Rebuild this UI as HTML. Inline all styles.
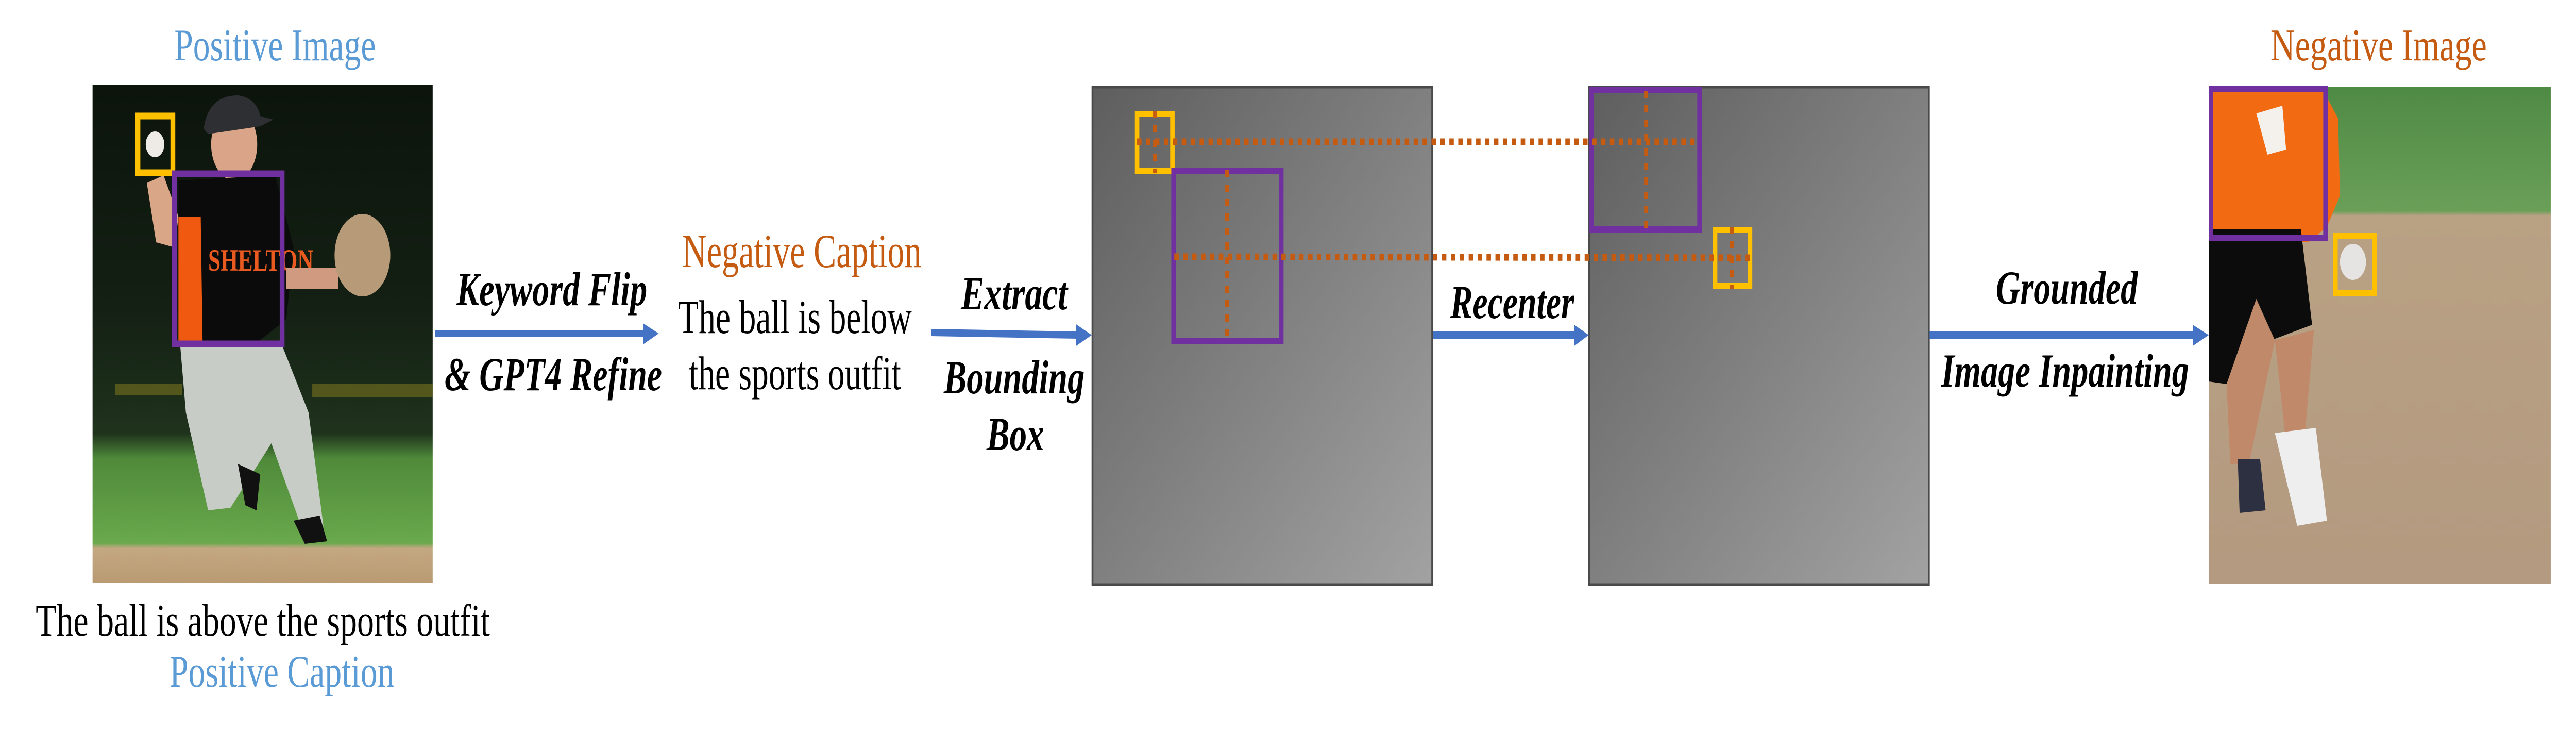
<!DOCTYPE html>
<html><head><meta charset="utf-8"><style>
html,body{margin:0;padding:0;background:#fff;width:100%;height:100%;overflow:hidden;}
svg{display:block;width:100vw;height:100vh;}
text{font-family:"Liberation Serif",serif;}
</style></head><body>
<svg viewBox="0 0 6930 1416" preserveAspectRatio="none" xmlns="http://www.w3.org/2000/svg">
<defs>
<linearGradient id="gp" x1="0" y1="0" x2="1" y2="1">
<stop offset="0" stop-color="#5e5e5e"/><stop offset="1" stop-color="#a2a2a2"/>
</linearGradient>
<linearGradient id="lbg" x1="0" y1="0" x2="0" y2="1">
<stop offset="0" stop-color="#0c140c"/><stop offset="0.45" stop-color="#142014"/><stop offset="0.7" stop-color="#1f331c"/><stop offset="0.75" stop-color="#4f8a3a"/><stop offset="0.92" stop-color="#6aa94c"/><stop offset="0.93" stop-color="#c4a882"/><stop offset="1" stop-color="#b99a72"/>
</linearGradient>
<linearGradient id="rbg" x1="0" y1="0" x2="0" y2="1">
<stop offset="0" stop-color="#4f8a44"/><stop offset="0.25" stop-color="#6a9f58"/><stop offset="0.26" stop-color="#b9a184"/><stop offset="1" stop-color="#b39a80"/>
</linearGradient>
</defs>

<rect x="249" y="165" width="915" height="966" fill="url(#lbg)"/>
<rect x="310" y="745" width="180" height="22" fill="#6b6a1e" opacity="0.7"/>
<rect x="840" y="745" width="324" height="25" fill="#6b6a1e" opacity="0.7"/>
<path d="M395 355 L440 340 L480 420 L470 480 L420 470 Z" fill="#d9a688"/>
<ellipse cx="630" cy="280" rx="62" ry="70" fill="#d9a488"/>
<path d="M548 250 Q560 185 640 185 Q690 190 700 225 L735 232 L700 245 L560 260 Z" fill="#2e2f33"/>
<path d="M480 350 L740 340 L790 480 L770 620 L690 665 L480 668 Z" fill="#0b0b0b"/>
<path d="M480 420 L540 420 L545 665 L480 665 Z" fill="#f05a10"/>
<text x="560" y="525" font-size="60" font-weight="bold" fill="#e85a20" font-family="Liberation Sans,sans-serif">SHELTON</text>
<path d="M770 520 L910 520 L910 560 L770 560 Z" fill="#d09a80"/>
<ellipse cx="975" cy="495" rx="75" ry="80" fill="#b79a78"/>
<path d="M485 672 L760 672 L830 800 L870 1020 L820 1040 L730 860 L620 985 L560 990 L500 800 Z" fill="#c8ccc6"/>
<path d="M790 1010 L860 1000 L880 1050 L820 1055 Z" fill="#111"/>
<path d="M640 900 L700 920 L690 990 L660 980 Z" fill="#111"/>
<circle cx="417" cy="280" r="25" fill="#eeeae6"/>
<rect x="371" y="225" width="94" height="110" fill="none" stroke="#ffc000" stroke-width="13"/>
<rect x="469" y="337" width="290" height="330" fill="none" stroke="#7030a0" stroke-width="13"/>

<text x="469" y="117" font-size="88" fill="#5b9bd5" textLength="542" lengthAdjust="spacingAndGlyphs">Positive Image</text>
<text x="96" y="1233" font-size="88" fill="#000" textLength="1222" lengthAdjust="spacingAndGlyphs">The ball is above the sports outfit</text>
<text x="456" y="1332" font-size="88" fill="#5b9bd5" textLength="605" lengthAdjust="spacingAndGlyphs">Positive Caption</text>

<line x1="1170" y1="647" x2="1735" y2="647" stroke="#4472c4" stroke-width="14"/>
<polygon points="1730,627 1772,647 1730,668" fill="#4472c4"/>
<text x="1228" y="592" font-size="92" font-weight="bold" font-style="italic" textLength="513" lengthAdjust="spacingAndGlyphs">Keyword Flip</text>
<text x="1196" y="757" font-size="92" font-weight="bold" font-style="italic" textLength="585" lengthAdjust="spacingAndGlyphs">&amp; GPT4 Refine</text>

<text x="1835" y="518" font-size="92" fill="#c55a11" textLength="644" lengthAdjust="spacingAndGlyphs">Negative Caption</text>
<text x="1824" y="646" font-size="92" fill="#000" textLength="629" lengthAdjust="spacingAndGlyphs">The ball is below</text>
<text x="1853" y="755" font-size="92" fill="#000" textLength="571" lengthAdjust="spacingAndGlyphs">the sports outfit</text>

<line x1="2505" y1="645" x2="2900" y2="650" stroke="#4472c4" stroke-width="14"/>
<polygon points="2895,629 2937,650 2895,671" fill="#4472c4"/>
<text x="2585" y="600" font-size="92" font-weight="bold" font-style="italic" textLength="287" lengthAdjust="spacingAndGlyphs">Extract</text>
<text x="2539" y="763" font-size="92" font-weight="bold" font-style="italic" textLength="379" lengthAdjust="spacingAndGlyphs">Bounding</text>
<text x="2654" y="873" font-size="92" font-weight="bold" font-style="italic" textLength="155" lengthAdjust="spacingAndGlyphs">Box</text>

<rect x="2939" y="169" width="914" height="965" fill="url(#gp)" stroke="#4a4a4a" stroke-width="5"/>
<rect x="3059" y="221" width="95" height="110" fill="none" stroke="#ffc000" stroke-width="12"/>
<rect x="3157" y="332" width="290" height="330" fill="none" stroke="#7030a0" stroke-width="12"/>
<rect x="4275" y="169" width="914" height="965" fill="url(#gp)" stroke="#4a4a4a" stroke-width="5"/>
<rect x="4282" y="175" width="290" height="270" fill="none" stroke="#7030a0" stroke-width="12"/>
<rect x="4614" y="446" width="94" height="109" fill="none" stroke="#ffc000" stroke-width="12"/>

<g stroke="#c55a11" stroke-width="13" stroke-dasharray="12 12" fill="none">
<line x1="3059" y1="275" x2="4565" y2="275"/>
<line x1="3159" y1="498" x2="4712" y2="500"/>
</g>
<g stroke="#c55a11" stroke-width="10" stroke-dasharray="14 14" fill="none">
<line x1="3107" y1="215" x2="3107" y2="336"/>
<line x1="3301" y1="330" x2="3301" y2="665"/>
<line x1="4428" y1="176" x2="4428" y2="442"/>
<line x1="4659" y1="440" x2="4659" y2="561"/>
</g>

<line x1="3855" y1="650" x2="4240" y2="650" stroke="#4472c4" stroke-width="14"/>
<polygon points="4235,630 4274,650 4235,671" fill="#4472c4"/>
<text x="3901" y="617" font-size="92" font-weight="bold" font-style="italic" textLength="334" lengthAdjust="spacingAndGlyphs">Recenter</text>

<line x1="5191" y1="650" x2="5905" y2="650" stroke="#4472c4" stroke-width="14"/>
<polygon points="5899,630 5942,650 5899,671" fill="#4472c4"/>
<text x="5369" y="589" font-size="92" font-weight="bold" font-style="italic" textLength="382" lengthAdjust="spacingAndGlyphs">Grounded</text>
<text x="5222" y="750" font-size="92" font-weight="bold" font-style="italic" textLength="667" lengthAdjust="spacingAndGlyphs">Image Inpainting</text>

<rect x="5942" y="168" width="920" height="964" fill="url(#rbg)"/>
<path d="M5942 175 L6250 175 L6290 230 L6295 380 L6260 440 L6210 470 L5942 470 Z" fill="#f26b12"/>
<path d="M6070 220 L6140 205 L6150 290 L6100 300 Z" fill="#f4f0ec"/>
<path d="M5942 445 L6190 445 L6220 630 L6110 660 L6070 580 L5990 745 L5942 740 Z" fill="#0c0c0c"/>
<path d="M5990 745 L6070 580 L6120 660 L6050 900 L6000 900 Z" fill="#c08a6a"/>
<path d="M6120 660 L6225 640 L6200 850 L6150 860 Z" fill="#c08a6a"/>
<path d="M6120 840 L6230 830 L6260 1010 L6180 1020 Z" fill="#eeeeee"/>
<path d="M6020 890 L6080 890 L6095 990 L6025 995 Z" fill="#2c3040"/>
<circle cx="6330" cy="508" r="35" fill="#e6e4e2"/>
<rect x="5948" y="172" width="308" height="290" fill="none" stroke="#7030a0" stroke-width="12"/>
<rect x="6283" y="457" width="105" height="112" fill="none" stroke="#ffc000" stroke-width="12"/>
<text x="6108" y="117" font-size="88" fill="#c55a11" textLength="582" lengthAdjust="spacingAndGlyphs">Negative Image</text>
</svg>
</body></html>
